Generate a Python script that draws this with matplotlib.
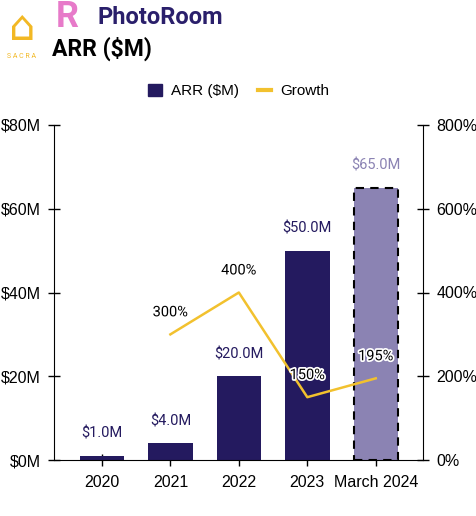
import matplotlib
matplotlib.use("Agg")
import matplotlib.pyplot as plt
import matplotlib.patheffects as pe
import numpy as np

categories = ["2020", "2021", "2022", "2023", "March 2024"]
arr = [1.0, 4.0, 20.0, 50.0, 65.0]
growth_cats = ["2021", "2022", "2023", "March 2024"]
growth = [300, 400, 150, 195]
left_ticks = ["$0M", "$20M", "$40M", "$60M", "$80M"]
right_ticks = ["0%", "200%", "400%", "600%", "800%"]

navy = "#241a5f"
light = "#8b83b3"
yellow = "#f2c12e"

plt.rcParams['font.family'] = ['Roboto', 'DejaVu Sans']
tickfont = ['Liberation Sans', 'DejaVu Sans']

fig = plt.figure(figsize=(4.77, 5.16), dpi=100)
W, H = 477, 516
ax = fig.add_axes([54/W, 1-460/H, 369/W, 335/H])
ax2 = ax.twinx()

x = np.arange(len(categories))
colors = [navy]*4 + [light]
bars = ax.bar(x, arr, width=0.65, color=colors, zorder=2)
bars[-1].set_edgecolor("black")
bars[-1].set_linestyle((0, (4, 3)))
bars[-1].set_linewidth(1.5)

for i, v in enumerate(arr):
    ax.text(x[i], v + 3.6, f"${v:.1f}M", ha="center", va="bottom", fontsize=10.5,
            color=(light if i == 4 else navy))

ax.set_xlim(-0.70, 4.69)
ax.set_ylim(0, 80)
ax.set_yticks([0, 20, 40, 60, 80])
ax.set_yticklabels(left_ticks, family=tickfont)
ax.set_xticks(x)
ax.set_xticklabels(categories, family=tickfont)

gx = [categories.index(c) for c in growth_cats]
ax2.plot(gx, growth, color=yellow, lw=1.8, zorder=3)
ax2.set_ylim(0, 800)
ax2.set_yticks([0, 200, 400, 600, 800])
ax2.set_yticklabels(right_ticks, family=tickfont)
for xi, g in zip(gx, growth):
    t = ax2.text(xi, g + 36, f"{g}%", ha="center", va="bottom", fontsize=10.5, color="black")
    t.set_path_effects([pe.withStroke(linewidth=2.5, foreground="white")])

for a in (ax, ax2):
    a.spines["top"].set_visible(False)
    a.tick_params(axis="y", direction="inout", length=9, width=1, labelsize=11.5, pad=5)
    a.tick_params(axis="x", direction="inout", length=9, width=1, labelsize=11.5, pad=6)
ax.spines["right"].set_visible(False)
ax2.spines["left"].set_visible(False)
ax2.spines["bottom"].set_visible(False)

from matplotlib.patches import Patch
from matplotlib.lines import Line2D
handles = [Patch(color=navy, label="ARR ($M)"), Line2D([0], [0], color=yellow, lw=3, label="Growth")]
fig.legend(handles=handles, loc="center", bbox_to_anchor=(239/W, 1-91/H), ncol=2, frameon=False,
           prop={'family': tickfont, 'size': 11}, handlelength=0.9, handleheight=0.9,
           columnspacing=1.2, handletextpad=0.6)

# header
fig.text(22/W, 1-57/H, "S A C R A", fontsize=5, color="#f2b824", ha="center", va="center")
fig.text(22/W, 1-29/H, "⌂", fontsize=30, color="#f2b824", ha="center", va="center")
fig.text(67/W, 1-17/H, "R", fontsize=26, fontweight="bold", color="#e77ac9", ha="center", va="center")
fig.text(98/W, 1-18/H, "PhotoRoom", fontsize=17, fontweight="bold", color="#2a1f6b", ha="left", va="center")
fig.text(52/W, 1-49/H, "ARR ($M)", fontsize=16.5, fontweight="bold", color="black", ha="left", va="center")

fig.savefig("out.png", dpi=100)
